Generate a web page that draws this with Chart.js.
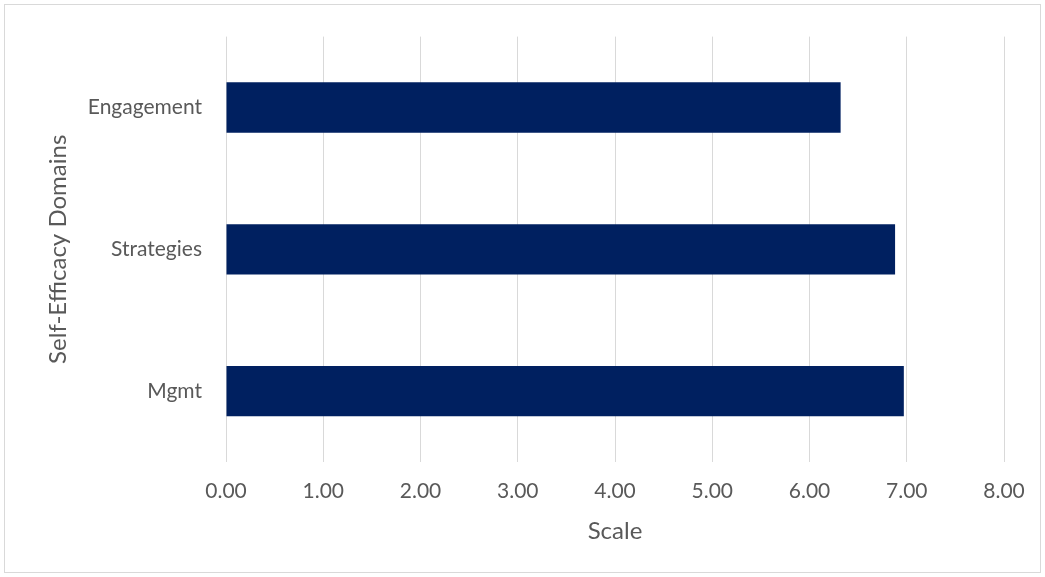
<!DOCTYPE html>
<html>
<head>
<meta charset="utf-8">
<script src="https://cdn.jsdelivr.net/npm/chart.js@4.4.1/dist/chart.umd.min.js"></script>
<style>
  body { margin: 0; background: #fff; }
  #frame { position: absolute; left: 4px; top: 4px; width: 1035px; height: 567px; border: 1px solid #d9d9d9; }
  #wrap { position: absolute; left: 0; top: 0; width: 1045px; height: 577px; }
</style>
</head>
<body>
<div id="frame"></div>
<div id="wrap"><canvas id="chart" width="1045" height="577"></canvas></div>
<script>
const domains = ["Engagement", "Strategies", "Mgmt"];
const scores = [6.32, 6.88, 6.97];
const scaleTicks = [0, 1, 2, 3, 4, 5, 6, 7, 8];

const grey = "#595959";
const fontFamily = "Lato, 'Open Sans', sans-serif";

const ctx = document.getElementById("chart").getContext("2d");
new Chart(ctx, {
  type: "bar",
  data: {
    labels: domains,
    datasets: [
      {
        label: "Self-Efficacy",
        data: scores,
        backgroundColor: "#002060",
        categoryPercentage: 1,
        barPercentage: 0.355,
      },
    ],
  },
  options: {
    indexAxis: "y",
    responsive: false,
    animation: false,
    layout: { padding: { top: 33, right: 41, left: 0, bottom: 0 } },
    plugins: { legend: { display: false }, tooltip: { enabled: false } },
    scales: {
      x: {
        min: scaleTicks[0],
        max: scaleTicks[scaleTicks.length - 1],
        afterBuildTicks: (axis) => {
          axis.ticks = scaleTicks.map((v) => ({ value: v }));
        },
        ticks: {
          color: grey,
          padding: 17,
          font: { family: fontFamily, size: 21 },
          callback: (v) => Number(v).toFixed(2),
        },
        grid: { color: "#d9d9d9", drawTicks: false },
        border: { display: false },
        title: {
          display: true,
          text: "Scale",
          color: grey,
          font: { family: fontFamily, size: 24 },
          padding: { top: 0, bottom: 31 },
        },
        afterFit: (axis) => {
          axis.height = 115;
        },
      },
      y: {
        ticks: {
          color: grey,
          padding: 24,
          font: { family: fontFamily, size: 21 },
        },
        grid: { display: false, drawTicks: false },
        border: { display: false },
        title: {
          display: true,
          text: "Self-Efficacy Domains",
          color: grey,
          font: { family: fontFamily, size: 24 },
          padding: { top: 44, bottom: 0 },
        },
        afterFit: (axis) => {
          axis.width = 226;
        },
      },
    },
  },
});
</script>
</body>
</html>
